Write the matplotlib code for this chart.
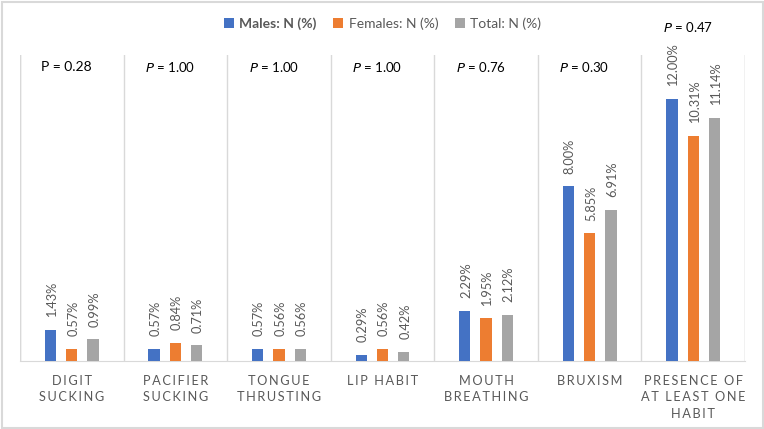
import matplotlib
matplotlib.use("Agg")
import matplotlib.pyplot as plt
import numpy as np
from matplotlib.patches import Rectangle

plt.rcParams['font.family'] = ['Lato', 'DejaVu Sans']

categories = ["DIGIT\nSUCKING", "PACIFIER\nSUCKING", "TONGUE\nTHRUSTING", "LIP HABIT",
              "MOUTH\nBREATHING", "BRUXISM", "PRESENCE OF\nAT LEAST ONE\nHABIT"]
males = [1.43, 0.57, 0.57, 0.29, 2.29, 8.00, 12.00]
females = [0.57, 0.84, 0.56, 0.56, 1.95, 5.85, 10.31]
total = [0.99, 0.71, 0.56, 0.42, 2.12, 6.91, 11.14]
p_labels = ["0.28", "1.00", "1.00", "1.00", "0.76", "0.30", "0.47"]
series_names = ["Males: N (%)", "Females: N (%)", "Total: N (%)"]
colors = ["#4472C4", "#ED7D31", "#A5A5A5"]

W, H = 764, 429
fig = plt.figure(figsize=(W / 100, H / 100), dpi=100)
fig.patches.append(Rectangle((1.5 / W, 1.5 / H), 1 - 3 / W, 1 - 3 / H, transform=fig.transFigure,
                             fill=False, edgecolor="#D9D9D9", linewidth=1.5))
ax = fig.add_axes([20 / W, (H - 361) / H, 725 / W, 306 / H])

x = np.arange(len(categories))
width = 0.109
offs = [-0.206, 0.0, 0.206]
txtc = "#595959"
for vals, off, col, name in zip([males, females, total], offs, colors, series_names):
    bars = ax.bar(x + off, vals, width, color=col, label=name, zorder=3)
    for xi, v in zip(x, vals):
        ax.annotate(f"{v:.2f}%", (xi + off, v), xytext=(1, 9), textcoords="offset points",
                    rotation=90, ha="center", va="bottom", fontsize=9.2, color=txtc)

ax.set_xlim(-0.5, len(categories) - 0.5)
ax.set_ylim(0, 14)
ax.set_yticks([])
ax.set_xticks(x)
ax.set_xticks(np.arange(len(categories) + 1) - 0.5, minor=True)
ax.grid(which="minor", axis="x", color="#D9D9D9", linewidth=1)
ax.tick_params(axis="x", which="both", length=0, labelbottom=False)
for s in ["top", "right", "left"]:
    ax.spines[s].set_visible(False)
ax.spines["bottom"].set_color("#D9D9D9")
ax.axvline(-0.5, color="#D9D9D9", lw=1)
ax.axvline(len(categories) - 0.5, color="#D9D9D9", lw=1)

def spaced(s):
    return "\n".join("\u2009".join(line) for line in s.split("\n"))

for xi, c in zip(x, categories):
    ax.text(xi, -0.65, spaced(c), ha="center", va="top", fontsize=9.2, color=txtc,
            linespacing=1.42, transform=ax.transData)

for i, p in enumerate(p_labels):
    yy = 13.45 if i < 6 else 15.3
    if i == 0:
        ax.text(i - 0.05, yy, f"P = {p}", ha="center", va="center", fontsize=10, color="black", clip_on=False)
    else:
        ax.text(i - 0.05, yy, f"$\\it{{P}}$ = {p}", ha="center", va="center", fontsize=9.5,
                color="black", clip_on=False)

leg = ax.legend(loc="center", bbox_to_anchor=(0.5, (H - 24 - (H - 361)) / 306), ncol=3, frameon=False,
                fontsize=10, handlelength=0.7, handleheight=0.7, columnspacing=1.2, handletextpad=0.4,
                bbox_transform=ax.transAxes)
for t in leg.get_texts():
    t.set_color(txtc)
leg.get_texts()[0].set_fontweight("bold")

fig.savefig("out.png", dpi=100)
